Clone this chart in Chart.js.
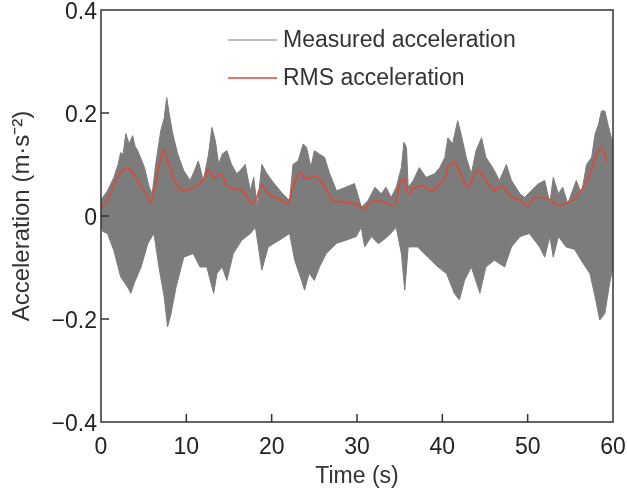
<!DOCTYPE html>
<html lang="en">
<head>
    <meta charset="UTF-8">
    <title>Measured and RMS acceleration</title>
    <script src="https://cdn.jsdelivr.net/npm/chart.js"></script>
    <style>
        body {
            margin: 0;
            background: #ffffff;
        }
        canvas {
            display: block;
        }
    </style>
</head>
<body>

<canvas id="accChart" width="627" height="494"></canvas>

<script>
    // upper envelope of the measured signal (s, m/s2)
    const upperT = [0, 0.2, 0.76, 1.5, 2.0, 2.3, 2.6, 2.9, 3.3, 3.7, 4.0, 4.3, 5.1, 5.65, 6.0, 6.4, 7.0, 7.4, 7.7, 8.0, 8.4, 9.0, 9.7,
        10.45, 11.0, 11.4, 12.0, 12.6, 13.0, 13.4, 13.8, 14.2, 14.75, 15.3, 15.9, 16.4, 16.9, 17.5, 17.9, 18.3, 18.85, 19.45,
        20.2, 21.3, 22.1, 22.5, 23.1, 23.7, 24.1, 24.6, 25.0, 25.6, 26.2, 26.8, 27.6, 28.7, 29.7,
        30.3, 30.5, 31.3, 32.1, 32.85, 33.4, 34.0, 34.6, 35.2, 35.5, 35.8, 36.0, 36.6, 37.3, 38.1, 39.1, 39.7,
        40.3, 40.65, 41.2, 41.8, 42.2, 42.8, 43.4, 43.95, 44.6, 45.1, 45.9, 46.7, 47.5, 48.1, 49.1, 49.65,
        50.4, 51.2, 52.0, 52.6, 53.0, 53.6, 54.1, 54.7, 55.7, 56.3, 56.9, 57.5, 57.9, 58.3, 58.65, 59.05, 59.4, 60];
    const upperA = [0.03, 0.036, 0.049, 0.075, 0.10, 0.123, 0.12, 0.16, 0.14, 0.156, 0.135, 0.127, 0.094, 0.056, 0.043, 0.10, 0.165, 0.19, 0.23, 0.198, 0.16, 0.12, 0.088,
        0.069, 0.09, 0.107, 0.069, 0.12, 0.172, 0.146, 0.10, 0.12, 0.127, 0.10, 0.082, 0.09, 0.10, 0.049, 0.075, 0.017, 0.10, 0.082,
        0.065, 0.043, 0.03, 0.10, 0.107, 0.14, 0.133, 0.094, 0.127, 0.12, 0.114, 0.082, 0.049, 0.056, 0.063,
        0.03, 0.017, 0.03, 0.056, 0.043, 0.056, 0.036, 0.056, 0.094, 0.143, 0.133, 0.056, 0.069, 0.094, 0.075, 0.082, 0.094,
        0.114, 0.152, 0.14, 0.185, 0.159, 0.114, 0.082, 0.127, 0.152, 0.114, 0.094, 0.069, 0.10, 0.069, 0.043, 0.036,
        0.049, 0.062, 0.069, 0.024, 0.075, 0.043, 0.056, 0.024, 0.069, 0.043, 0.10, 0.114, 0.159, 0.178, 0.204, 0.204, 0.178, 0.14];

    // lower envelope of the measured signal
    const lowerT = [0, 0.2, 0.76, 1.5, 2.3, 3.1, 3.5, 3.9, 4.7, 5.5, 6.2, 6.8, 7.4, 7.8, 8.2, 8.8, 9.7,
        10.8, 11.6, 12.4, 13.2, 13.6, 14.2, 14.75, 15.5, 16.5, 17.5, 18.1, 18.85, 19.6,
        20.9, 22.1, 22.7, 23.5, 23.85, 24.4, 25.0, 25.6, 26.4, 27.6, 28.7, 29.9,
        30.5, 30.9, 31.7, 32.5, 33.6, 34.6, 35.2, 35.6, 36.0, 37.1, 38.3, 39.5,
        40.5, 41.4, 42.0, 42.6, 43.4, 44.4, 45.1, 46.1, 47.3, 48.1, 49.1,
        50.2, 51.4, 52.0, 52.6, 53.0, 53.6, 54.5, 55.5, 56.5, 57.3, 57.9, 58.45, 59.05, 59.6, 60];
    const lowerA = [-0.02, -0.03, -0.034, -0.067, -0.118, -0.138, -0.15, -0.13, -0.099, -0.053, -0.034, -0.10, -0.157, -0.215, -0.19, -0.138, -0.08,
        -0.073, -0.099, -0.099, -0.15, -0.111, -0.099, -0.125, -0.073, -0.047, -0.034, -0.022, -0.105, -0.06,
        -0.047, -0.034, -0.086, -0.125, -0.144, -0.111, -0.125, -0.099, -0.073, -0.053, -0.047, -0.04,
        -0.022, -0.06, -0.04, -0.054, -0.04, -0.022, -0.073, -0.144, -0.06, -0.06, -0.08, -0.099,
        -0.112, -0.15, -0.163, -0.125, -0.099, -0.15, -0.099, -0.086, -0.099, -0.06, -0.04,
        -0.034, -0.06, -0.08, -0.04, -0.08, -0.04, -0.06, -0.065, -0.092, -0.112, -0.157, -0.202, -0.189, -0.131, -0.099];

    // RMS acceleration
    const rmsT = [0, 0.76, 1.7, 2.5, 3.1, 3.7, 4.5, 5.3, 5.85, 6.4, 7.0, 7.35, 7.8, 8.6, 9.7,
        11.2, 12.0, 12.6, 13.2, 14.0, 14.9, 15.9, 16.9, 17.7, 18.1, 18.85, 19.6,
        20.9, 21.9, 22.5, 23.3, 24.05, 25.0, 26.0, 27.2, 28.7,
        30.3, 30.9, 31.5, 32.5, 33.6, 34.4, 35.0, 35.5, 36.0, 36.6, 37.5, 38.7, 39.7,
        40.3, 40.65, 41.4, 42.2, 43.0, 43.8, 44.2, 45.1, 46.1, 46.9, 47.9, 49.1,
        50.0, 50.8, 52.0, 52.8, 53.6, 54.3, 55.5, 56.5, 57.3, 58.1, 58.6, 59.05, 59.3];
    const rmsA = [0.015, 0.03, 0.069, 0.088, 0.094, 0.085, 0.062, 0.043, 0.027, 0.062, 0.114, 0.127, 0.107, 0.069, 0.049,
        0.059, 0.07, 0.09, 0.075, 0.082, 0.056, 0.053, 0.043, 0.024, 0.03, 0.059, 0.043,
        0.033, 0.024, 0.056, 0.085, 0.072, 0.078, 0.062, 0.03, 0.027,
        0.02, 0.014, 0.027, 0.03, 0.024, 0.02, 0.062, 0.072, 0.043, 0.053, 0.059, 0.049, 0.062,
        0.075, 0.094, 0.104, 0.078, 0.056, 0.082, 0.088, 0.069, 0.049, 0.059, 0.04, 0.03,
        0.02, 0.036, 0.036, 0.03, 0.02, 0.024, 0.033, 0.056, 0.082, 0.12, 0.133, 0.12, 0.104];

    const xTicks = [0, 10, 20, 30, 40, 50, 60];
    const yTicks = [-0.4, -0.2, 0, 0.2, 0.4];
    const seriesNames = ['Measured acceleration', 'RMS acceleration'];

    // envelope as one closed outline: upper edge left to right, lower edge back
    const envelope = upperT.map((t, i) => ({ x: t, y: upperA[i] }))
        .concat(lowerT.map((t, i) => ({ x: t, y: lowerA[i] })).reverse());
    const rmsPts = rmsT.map((t, i) => ({ x: t, y: rmsA[i] }));

    const GREY = 'rgb(124, 124, 124)';
    const RED = 'rgb(220, 72, 55)';
    const INK = '#333333';
    const FONT = '"Liberation Sans", Arial, sans-serif';

    Chart.defaults.font.family = FONT;
    Chart.defaults.font.size = 23;
    Chart.defaults.color = '#222222';

    // frame, inward ticks and legend drawn on top of the chart area
    const framePlugin = {
        id: 'frame',
        afterDraw(chart) {
            const { ctx, chartArea: a, scales } = chart;
            ctx.save();
            ctx.strokeStyle = INK;
            ctx.lineWidth = 1.5;
            ctx.strokeRect(a.left, a.top, a.right - a.left, a.bottom - a.top);

            ctx.beginPath();
            xTicks.slice(1, -1).forEach(v => {
                const px = scales.x.getPixelForValue(v);
                ctx.moveTo(px, a.bottom);
                ctx.lineTo(px, a.bottom - 8);
            });
            yTicks.slice(1, -1).forEach(v => {
                const py = scales.y.getPixelForValue(v);
                ctx.moveTo(a.left, py);
                ctx.lineTo(a.left + 8, py);
            });
            ctx.stroke();

            // legend
            const lx = a.left + 127;
            const rows = [a.top + 30, a.top + 68];
            const colors = [GREY, RED];
            ctx.font = '23px ' + FONT;
            ctx.textBaseline = 'middle';
            ctx.fillStyle = INK;
            rows.forEach((y, i) => {
                ctx.beginPath();
                ctx.strokeStyle = colors[i];
                ctx.lineWidth = i === 0 ? 1 : 1.5;
                ctx.moveTo(lx, y);
                ctx.lineTo(lx + 49, y);
                ctx.stroke();
                ctx.fillText(seriesNames[i], lx + 55, y + 1);
            });
            ctx.restore();
        }
    };

    const ctx = document.getElementById('accChart').getContext('2d');

    const accChart = new Chart(ctx, {
        type: 'line',
        data: {
            datasets: [
                {
                    label: seriesNames[1],
                    data: rmsPts,
                    borderColor: RED,
                    borderWidth: 1.6,
                    pointRadius: 0,
                    cubicInterpolationMode: 'monotone',
                    fill: false,
                    order: 0
                },
                {
                    label: seriesNames[0],
                    data: envelope,
                    borderColor: GREY,
                    backgroundColor: GREY,
                    borderWidth: 1,
                    pointRadius: 0,
                    tension: 0,
                    fill: 'shape',
                    order: 1
                }
            ]
        },
        options: {
            responsive: false,
            animation: false,
            layout: {
                padding: { top: 10, right: 14, left: 0, bottom: 0 }
            },
            plugins: {
                legend: { display: false },
                tooltip: { enabled: false }
            },
            scales: {
                x: {
                    type: 'linear',
                    min: 0,
                    max: 60,
                    afterFit: scale => {
                        scale.height = 72;
                        scale.paddingLeft = 0;
                        scale.paddingRight = 0;
                    },
                    afterBuildTicks: scale => { scale.ticks = xTicks.map(v => ({ value: v })); },
                    ticks: { padding: 12, maxRotation: 0, color: '#222' },
                    grid: { display: false, drawTicks: false },
                    border: { display: false },
                    title: {
                        display: true,
                        text: 'Time (s)',
                        color: INK,
                        padding: { top: 0, bottom: 4 }
                    }
                },
                y: {
                    min: -0.4,
                    max: 0.4,
                    afterFit: scale => {
                        scale.width = 101;
                        scale.paddingTop = 0;
                        scale.paddingBottom = 0;
                    },
                    afterBuildTicks: scale => { scale.ticks = yTicks.map(v => ({ value: v })); },
                    ticks: {
                        padding: 4,
                        labelOffset: 3,
                        color: '#222',
                        callback: v => {
                            const r = Math.round(v * 10) / 10;
                            if (r === 0) return '0';
                            return r < 0 ? '\u2212' + Math.abs(r).toFixed(1) : r.toFixed(1);
                        }
                    },
                    grid: { display: false, drawTicks: false },
                    border: { display: false },
                    title: {
                        display: true,
                        text: 'Acceleration (m\u00b7s\u207b\u00b2)',
                        color: INK,
                        font: { size: 24 },
                        padding: { top: 8, bottom: 0 }
                    }
                }
            }
        },
        plugins: [framePlugin]
    });
</script>

</body>
</html>
